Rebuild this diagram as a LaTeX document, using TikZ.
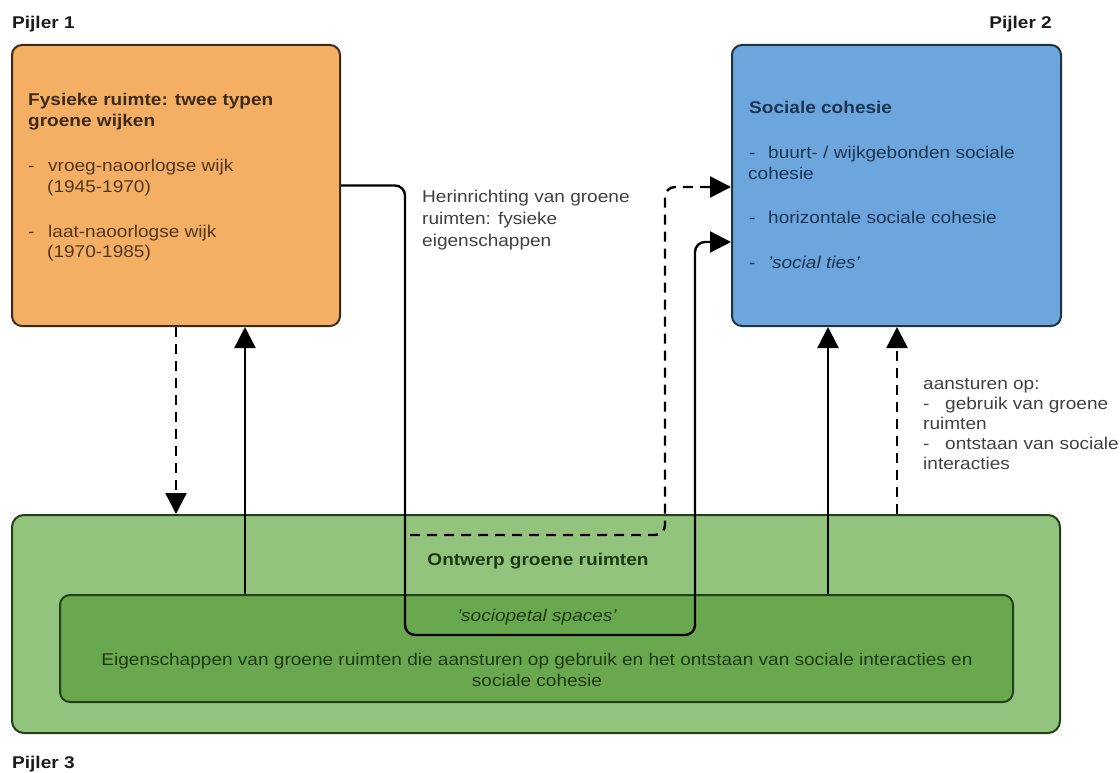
\documentclass[tikz,border=0pt]{standalone}
\usepackage{fontspec}
\setmainfont{Liberation Sans}[FakeStretch=1.12]
\usetikzlibrary{arrows.meta}
\definecolor{orfill}{HTML}{F5AF65}
\definecolor{ordraw}{HTML}{3D2B1A}
\definecolor{ortext}{HTML}{4F3820}
\definecolor{blfill}{HTML}{6CA6DC}
\definecolor{bldraw}{HTML}{1F3347}
\definecolor{bltext}{HTML}{1C3552}
\definecolor{g1fill}{HTML}{93C47D}
\definecolor{g2fill}{HTML}{6AA84F}
\definecolor{gdraw}{HTML}{24401A}
\definecolor{gtext}{HTML}{1E3A14}
\definecolor{gray1}{HTML}{404040}
\definecolor{lab}{HTML}{1A1A1A}
\newcommand\myfs{\fontsize{17}{20}\selectfont}
\begin{document}
\begin{tikzpicture}[x=1pt,y=-1pt,
  boxbase/.style={rectangle, line width=2pt, rounded corners=10pt, inner sep=0pt},
  txt/.style={anchor=base west, inner sep=0pt, font=\myfs},
  ctxt/.style={anchor=base, inner sep=0pt, font=\myfs},
  conn/.style={line width=2.4pt, draw=black},
  arr/.style={-{Triangle[width=21pt,length=21pt]}},
  dsh/.style={dash pattern=on 10pt off 7pt}]
\useasboundingbox (0,0) rectangle (1120,773);

% boxes
\node[boxbase, draw=ordraw, fill=orfill, minimum width=328pt, minimum height=281pt] (orange) at (176,185.5) {};
\node[boxbase, draw=bldraw, fill=blfill, minimum width=329pt, minimum height=281pt] (blue) at (896.5,185.5) {};
\node[boxbase, draw=gdraw, fill=g1fill, rounded corners=12pt, minimum width=1048pt, minimum height=218pt] (outer) at (536,624) {};
\node[boxbase, draw=gdraw, fill=g2fill, minimum width=953pt, minimum height=107pt] (inner) at (536.5,648.5) {};

% pillar labels
\node[txt, text=lab, font=\myfs\bfseries] (p1) at (12,29) {Pijler 1};
\node[anchor=base east, inner sep=0pt, text=lab, font=\myfs\bfseries] (p2) at (1052,29) {Pijler 2};
\node[txt, text=lab, font=\myfs\bfseries] (p3) at (12,768) {Pijler 3};

% orange box text
\node[txt, text=ordraw, font=\myfs\bfseries] (o1) at (28,106) {Fysieke ruimte: twee typen};
\node[txt, text=ordraw, font=\myfs\bfseries] (o2) at (28,127) {groene wijken};
\node[txt, text=ortext] (o3) at (28,172) {\makebox[20pt][l]{-}vroeg-naoorlogse wijk};
\node[txt, text=ortext] (o4) at (47,193) {(1945-1970)};
\node[txt, text=ortext] (o5) at (28,237) {\makebox[20pt][l]{-}laat-naoorlogse wijk};
\node[txt, text=ortext] (o6) at (47,258) {(1970-1985)};

% blue box text
\node[txt, text=bltext, font=\myfs\bfseries] (b1) at (749,114) {Sociale cohesie};
\node[txt, text=bltext] (b2) at (749,159) {\makebox[19pt][l]{-}buurt- / wijkgebonden sociale};
\node[txt, text=bltext] (b3) at (748,180) {cohesie};
\node[txt, text=bltext] (b4) at (749,224) {\makebox[19pt][l]{-}horizontale sociale cohesie};
\node[txt, text=bltext] (b5) at (749,268) {\makebox[19pt][l]{-}\itshape 'social ties'};

% middle text
\node[txt, text=gray1] (h1) at (422,203) {Herinrichting van groene};
\node[txt, text=gray1] (h2) at (422,225) {ruimten: fysieke};
\node[txt, text=gray1] (h3) at (422,247) {eigenschappen};

% right text
\node[txt, text=gray1] (a1) at (923,389) {aansturen op:};
\node[txt, text=gray1] (a2) at (923,409) {\makebox[22pt][l]{-}gebruik van groene};
\node[txt, text=gray1] (a3) at (923,429) {ruimten};
\node[txt, text=gray1] (a4) at (923,449) {\makebox[22pt][l]{-}ontstaan van sociale};
\node[txt, text=gray1] (a5) at (923,469) {interacties};

% green text
\node[ctxt, text=gtext, font=\myfs\bfseries] (g1) at (538,565) {Ontwerp groene ruimten};
\node[ctxt, text=gtext, font=\myfs\itshape] (g2) at (537,621) {'sociopetal spaces'};
\node[ctxt, text=gtext] (g3) at (537,665) {Eigenschappen van groene ruimten die aansturen op gebruik en het ontstaan van sociale interacties en};
\node[ctxt, text=gtext] (g4) at (537,686) {sociale cohesie};

% helper coordinates
\coordinate (x176) at (176,0);
\coordinate (x245) at (245,0);
\coordinate (x828) at (828,0);
\coordinate (x897) at (897,0);
\coordinate (u1) at (405,635);
\coordinate (u2) at (695,635);
\coordinate (u3) at (695,242);
\coordinate (d0) at (410,535);
\coordinate (d1) at (665,535);
\coordinate (d2) at (665,187);

% connectors
\draw[conn, dsh, arr] (orange.south) -- (x176 |- outer.north);
\draw[conn, arr] (x245 |- inner.north) -- (x245 |- orange.south);
\draw[conn, arr] (x828 |- inner.north) -- (x828 |- blue.south);
\draw[conn, dsh, arr] (x897 |- outer.north) -- (x897 |- blue.south);
\draw[conn, arr, rounded corners=10pt] (orange.east) -- (u1 |- orange.east) -- (u1) -- (u2) -- (u3) -- (blue.west |- u3);
\draw[conn, dsh, arr, rounded corners=10pt] (d0) -- (d1) -- (d2) -- (blue.west |- d2);
\end{tikzpicture}
\end{document}
